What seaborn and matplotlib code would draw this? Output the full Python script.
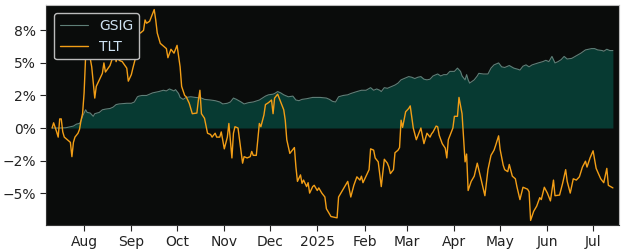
import matplotlib
matplotlib.use("Agg")
import matplotlib.pyplot as plt
import matplotlib.dates as mdates
from matplotlib.ticker import PercentFormatter, FuncFormatter
import seaborn as sns
import pandas as pd

start_date = "2024-07-11"

gsig_days = [0, 5, 9, 14, 16, 18, 19, 20, 22, 23, 25, 27, 28, 31, 33, 35, 38, 40, 42, 44,
             49, 52, 54, 56, 57, 59, 62, 66, 70, 73, 75, 77, 80, 81, 83, 84, 86, 88, 91, 94,
             98, 100, 104, 107, 110, 112, 115, 117, 119, 121, 124, 126, 129, 132, 136, 138, 140, 142, 145, 146,
             148, 150, 152, 155, 158, 160, 162, 164, 167, 171, 176, 180, 182, 184, 186, 188, 191, 194, 196, 200,
             203, 206, 209, 211, 213, 215, 216, 218, 220, 223, 225, 227, 229, 231, 234, 236, 238, 240, 242, 244,
             246, 248, 250, 253, 255, 257, 259, 261, 264, 266, 268, 269, 271, 272, 273, 274, 277, 279, 280, 283,
             286, 288, 290, 293, 295, 297, 300, 303, 306, 307, 309, 311, 313, 315, 319, 322, 324, 326, 328, 330,
             332, 334, 336, 338, 341, 344, 347, 350, 354, 356, 358, 361, 362, 364, 366, 368]
gsig_pct = [0.0, 0.0, 0.02, 0.15, 0.3, 0.35, 0.55, 0.9, 1.4, 1.2, 1.15, 0.9, 1.1, 1.2, 1.4, 1.45, 1.5, 1.6, 1.8, 1.85,
            1.9, 1.9, 2.0, 2.4, 2.45, 2.5, 2.5, 2.7, 2.8, 2.9, 2.85, 3.0, 2.85, 2.95, 2.65, 2.35, 2.2, 2.35, 2.4, 2.35,
            2.3, 2.2, 2.15, 2.1, 2.0, 1.85, 1.9, 2.0, 2.3, 2.2, 2.0, 1.85, 1.95, 2.0, 2.15, 2.3, 2.45, 2.55, 2.6, 2.65,
            2.8, 2.7, 2.55, 2.4, 2.45, 2.15, 2.1, 2.2, 2.25, 2.35, 2.35, 2.3, 2.2, 2.05, 2.0, 2.4, 2.5, 2.55, 2.65, 2.8,
            2.9, 2.9, 3.1, 2.9, 3.0, 2.9, 2.8, 3.1, 3.05, 3.2, 3.3, 3.45, 3.7, 3.8, 3.95, 3.9, 3.8, 3.9, 3.95, 3.75,
            3.7, 3.75, 4.0, 4.15, 4.0, 4.1, 4.1, 4.35, 4.35, 4.6, 4.35, 4.0, 3.7, 4.1, 3.7, 3.45, 3.7, 4.0, 4.2, 4.15,
            4.15, 4.6, 4.85, 5.0, 4.7, 4.65, 4.8, 4.6, 4.5, 4.45, 4.75, 4.85, 4.7, 4.85, 5.0, 5.1, 5.2, 5.1, 5.5, 5.0,
            5.1, 5.25, 5.5, 5.3, 5.35, 5.55, 5.75, 6.0, 6.1, 6.1, 6.0, 5.95, 5.9, 6.05, 5.95, 5.95]

tlt_days = [0, 1, 3, 4, 5, 6, 7, 8, 10, 12, 13, 14, 15, 17, 18, 19, 20, 21, 22, 23,
            24, 26, 27, 28, 29, 31, 33, 34, 35, 38, 40, 41, 42, 43, 44, 46, 49, 50, 52, 53,
            55, 56, 58, 60, 61, 62, 64, 67, 68, 69, 71, 73, 75, 76, 78, 80, 82, 84, 85, 87,
            88, 90, 92, 95, 96, 97, 98, 100, 102, 104, 105, 107, 108, 110, 111, 113, 115, 116, 118, 119,
            120, 122, 123, 125, 126, 128, 130, 131, 132, 134, 136, 137, 139, 140, 142, 144, 145, 146, 148, 150,
            152, 153, 154, 156, 157, 159, 160, 161, 163, 164, 165, 167, 168, 169, 171, 172, 174, 175, 177, 179,
            180, 183, 187, 188, 190, 194, 196, 198, 200, 202, 203, 204, 206, 208, 209, 211, 212, 214, 216, 218,
            220, 221, 222, 224, 225, 227, 228, 229, 230, 232, 234, 235, 237, 239, 241, 242, 244, 246, 248, 249,
            250, 252, 253, 254, 256, 258, 259, 260, 262, 263, 264, 266, 267, 269, 270, 271, 272, 273, 275, 277,
            279, 281, 284, 286, 288, 290, 291, 293, 294, 296, 297, 299, 300, 302, 304, 305, 307, 309, 312, 313,
            314, 316, 318, 320, 321, 323, 325, 327, 329, 330, 333, 335, 337, 338, 340, 342, 344, 346, 348, 350,
            351, 353, 355, 357, 360, 362, 364, 365, 368]
tlt_pct = [0.0, 0.4, -0.3, -0.7, 0.7, 0.7, -0.3, -0.7, -0.9, -1.1, -2.2, -1.1, -0.7, -0.4, -0.1, 0.6, 1.1, 2.7, 5.5, 5.8,
           6.0, 4.7, 3.5, 2.3, 3.2, 3.7, 4.2, 5.0, 4.3, 4.8, 5.5, 5.9, 5.1, 5.6, 5.2, 5.1, 4.6, 3.6, 4.1, 4.6,
           5.5, 7.3, 7.3, 7.5, 8.3, 8.05, 8.2, 9.1, 8.3, 7.3, 6.5, 6.3, 6.1, 5.4, 6.05, 5.75, 6.35, 4.7, 3.2, 2.5,
           2.4, 1.9, 1.1, 1.15, 2.15, 2.9, 1.1, 0.75, -0.4, -0.5, -0.7, -0.4, -0.7, -0.7, -0.3, -1.6, -0.7, 0.35, -2.3, -0.4,
           0.1, 0.0, -0.9, -2.7, -2.2, -2.3, -2.2, -1.8, -2.1, -2.1, 0.35, 0.1, 1.0, 1.8, 1.95, 2.15, 1.1, 2.3, 2.6, 2.0,
           1.4, 0.6, -0.9, -1.95, -1.8, -1.5, -3.0, -4.1, -3.6, -4.25, -4.0, -4.5, -4.2, -5.0, -4.5, -4.4, -4.8, -4.6, -5.0, -5.3,
           -6.2, -6.8, -6.9, -5.3, -4.9, -4.1, -5.3, -4.4, -3.75, -4.0, -3.7, -4.2, -3.7, -3.2, -1.6, -1.7, -2.3, -2.6, -4.5, -2.4,
           -2.7, -3.0, -3.5, -3.2, -1.9, -1.7, -1.5, 0.6, 0.05, 1.25, 1.5, 1.7, 0.0, -0.9, -0.3, 0.0, -1.2, -0.4, -0.7, -0.45,
           -0.3, 0.15, 0.1, -0.55, -1.2, -1.55, -2.3, -0.9, -0.3, 0.0, 0.9, 0.9, 2.35, 1.1, -0.8, -2.6, -2.0, -4.8, -4.1, -3.7,
           -2.7, -3.7, -5.2, -3.2, -2.1, -1.7, -1.35, -0.6, -1.65, -2.85, -3.2, -3.35, -2.8, -3.7, -3.9, -4.5, -5.5, -4.55, -4.7, -4.9,
           -7.1, -6.4, -6.0, -5.35, -5.5, -4.55, -5.0, -5.6, -4.0, -5.2, -5.15, -4.25, -3.2, -4.1, -5.0, -3.9, -4.0, -3.75, -3.0, -2.55,
           -3.0, -2.3, -1.75, -3.1, -3.9, -4.2, -3.1, -4.4, -4.6]

x_start = "2024-07-07"
x_end = "2025-07-18"

t0 = pd.Timestamp(start_date)
gsig = pd.DataFrame({"date": t0 + pd.to_timedelta(gsig_days, unit="D"), "pct": gsig_pct})
tlt = pd.DataFrame({"date": t0 + pd.to_timedelta(tlt_days, unit="D"), "pct": tlt_pct})

sns.set_theme(style="ticks")
plt.rcParams["font.family"] = ["DejaVu Sans"]

fig = plt.figure(figsize=(6.25, 2.5), dpi=100)
ax = fig.add_axes([0.0736, 0.10, 0.9168, 0.88])
ax.set_facecolor("#0a0c0b")

ax.fill_between(gsig["date"], gsig["pct"], 0, color="#073a32", linewidth=0, zorder=1)
sns.lineplot(data=gsig, x="date", y="pct", ax=ax, color="#5f7f78", linewidth=0.8,
             label="GSIG", zorder=2)
sns.lineplot(data=tlt, x="date", y="pct", ax=ax, color="#f29e16", linewidth=1.0,
             label="TLT", zorder=3)

ax.set_xlim(pd.Timestamp(x_start), pd.Timestamp(x_end))
ax.set_ylim(-7.45, 9.45)
ax.set_yticks([-5, -2.5, 0, 2.5, 5, 7.5])
ax.yaxis.set_major_formatter(PercentFormatter(xmax=100, decimals=0))

ax.xaxis.set_major_locator(mdates.MonthLocator())
def month_fmt(x, pos=None):
    d = mdates.num2date(x)
    return d.strftime("%Y") if d.month == 1 else d.strftime("%b")
ax.xaxis.set_major_formatter(FuncFormatter(month_fmt))

ax.set_xlabel("")
ax.set_ylabel("")
ax.tick_params(axis="both", labelsize=10, colors="#222222", length=4, width=0.8)
for s in ["left", "bottom"]:
    ax.spines[s].set_color("#333333")
for s in ["top", "right"]:
    ax.spines[s].set_visible(True)
    ax.spines[s].set_color("#bbbbbb")
for s in ax.spines.values():
    s.set_linewidth(0.8)

leg = ax.legend(loc="upper left", fontsize=10, frameon=True, fancybox=True,
                borderaxespad=0.6)
leg.get_frame().set_facecolor("#0a0c0b")
leg.get_frame().set_edgecolor("#bbbbbb")
leg.get_frame().set_alpha(1.0)
for t in leg.get_texts():
    t.set_color("#cfe3f3")

fig.savefig("out.png", dpi=100, facecolor="white")
